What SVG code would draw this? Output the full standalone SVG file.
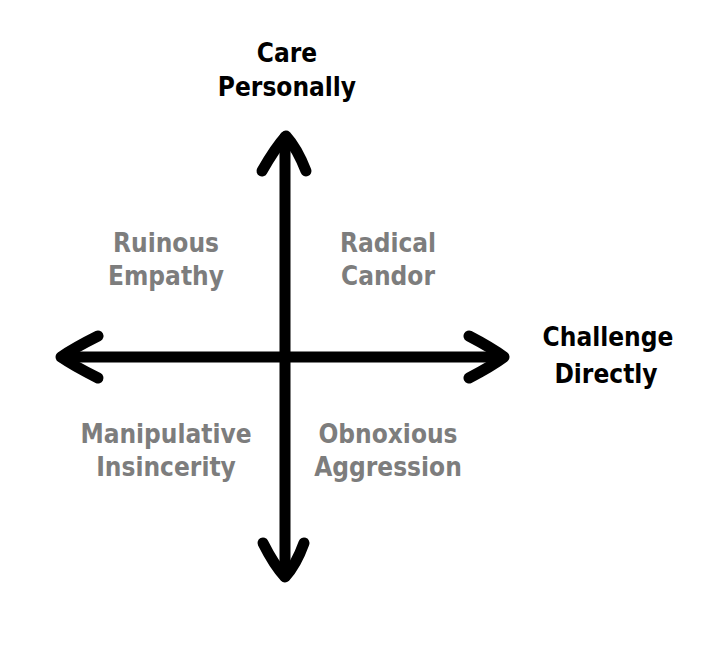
<svg xmlns="http://www.w3.org/2000/svg" width="722" height="648" viewBox="0 0 722 648">
<style>
.ax{fill:none;stroke:#000;stroke-width:11;stroke-linecap:round;stroke-linejoin:round}
.t{font-family:"DejaVu Sans Condensed","DejaVu Sans",sans-serif;font-weight:bold;font-size:26px;text-anchor:middle}
.k{fill:#000}
.g{fill:#7d7d7d}
</style>
<rect width="722" height="648" fill="#fff"/>
<g id="connectors">
<path class="ax" d="M285 137 L285 576"/>
<path class="ax" d="M62 357 L503 357"/>
<path class="ax" d="M262 171 Q275 148 286 136 Q297 148 306 171"/>
<path class="ax" d="M263 543 Q274 565 285 577 Q296 565 304 543"/>
<path class="ax" d="M98 336 Q74 348 61 357 Q74 366 98 378"/>
<path class="ax" d="M469 336 Q492 348 504 357 Q492 366 469 378"/>
</g>
<g id="care"><text class="t k" x="287" y="62">Care</text><text class="t k" x="287" y="96">Personally</text></g>
<g id="challenge"><text class="t k" x="608" y="346">Challenge</text><text class="t k" x="606" y="383">Directly</text></g>
<g id="ruinous"><text class="t g" x="166" y="252">Ruinous</text><text class="t g" x="166" y="285">Empathy</text></g>
<g id="radical"><text class="t g" x="388" y="252">Radical</text><text class="t g" x="388" y="285">Candor</text></g>
<g id="manipulative"><text class="t g" x="166" y="443">Manipulative</text><text class="t g" x="166" y="476">Insincerity</text></g>
<g id="obnoxious"><text class="t g" x="388" y="443">Obnoxious</text><text class="t g" x="388" y="476">Aggression</text></g>
</svg>
